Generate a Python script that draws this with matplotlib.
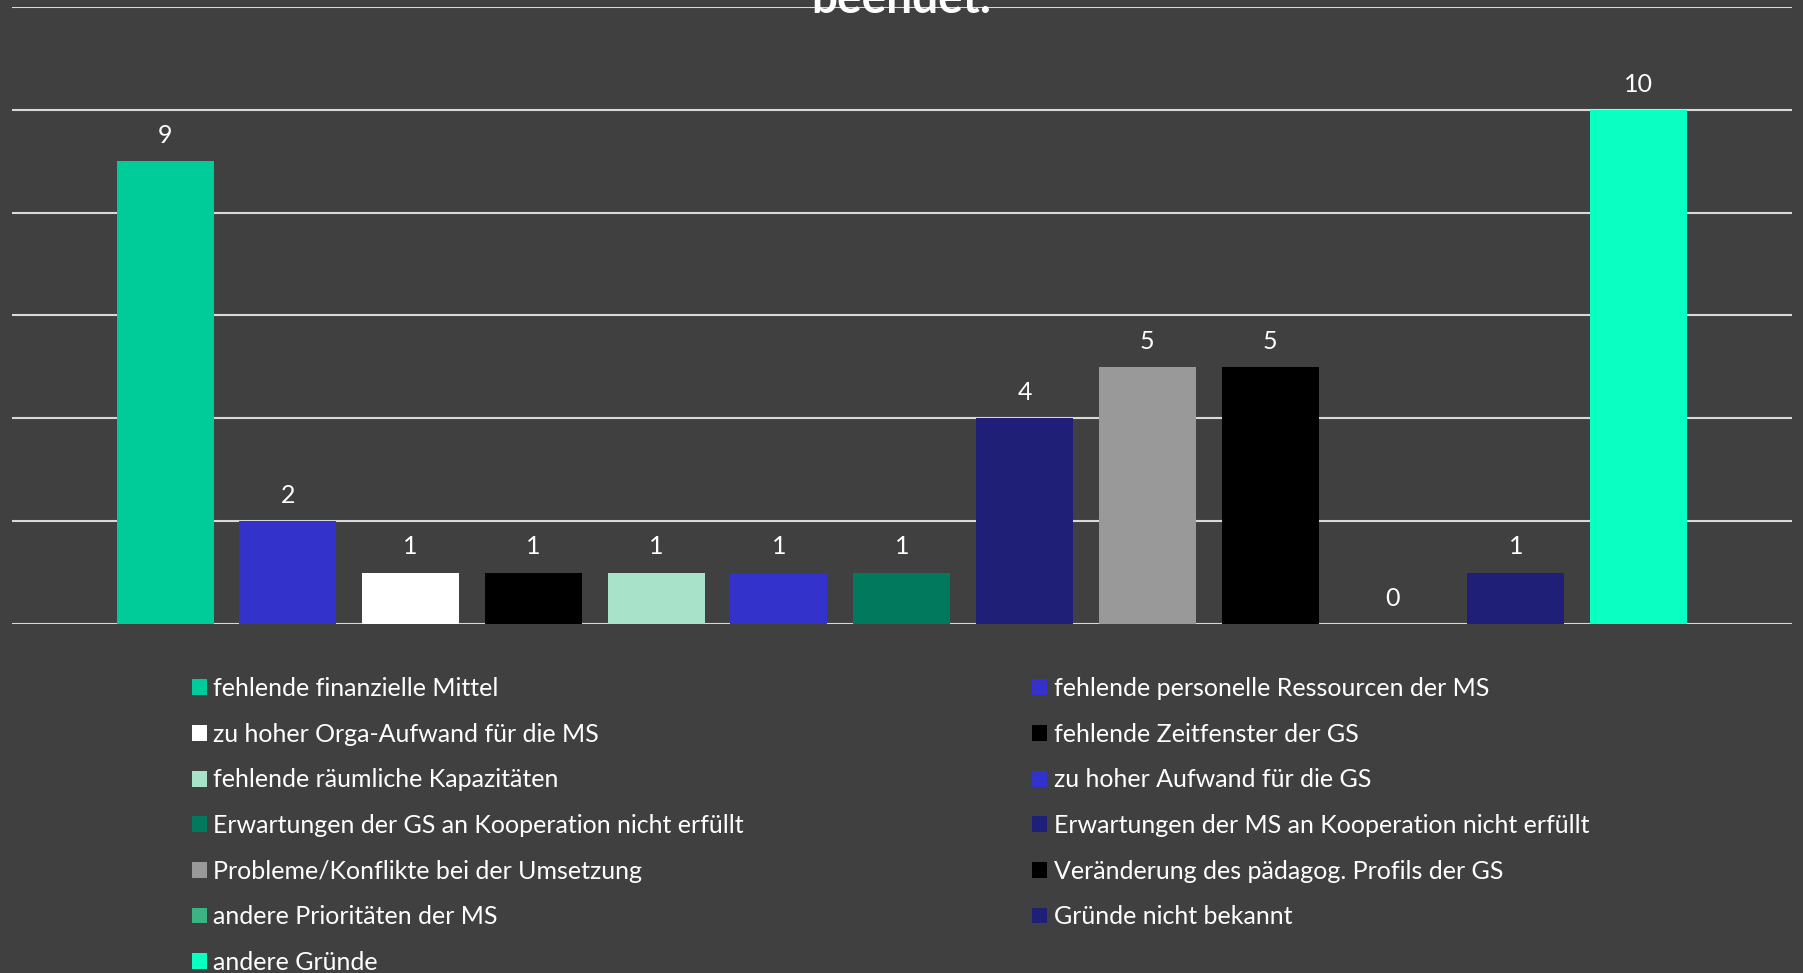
import matplotlib
matplotlib.use("Agg")
import matplotlib.pyplot as plt
from matplotlib.patches import Patch

plt.rcParams['font.family'] = ['Lato', 'DejaVu Sans']

reasons = [
    "fehlende finanzielle Mittel",
    "fehlende personelle Ressourcen der MS",
    "zu hoher Orga-Aufwand für die MS",
    "fehlende Zeitfenster der GS",
    "fehlende räumliche Kapazitäten",
    "zu hoher Aufwand für die GS",
    "Erwartungen der GS an Kooperation nicht erfüllt",
    "Erwartungen der MS an Kooperation nicht erfüllt",
    "Probleme/Konflikte bei der Umsetzung",
    "Veränderung des pädagog. Profils der GS",
    "andere Prioritäten der MS",
    "Gründe nicht bekannt",
    "andere Gründe",
]
counts = [9, 2, 1, 1, 1, 1, 1, 4, 5, 5, 0, 1, 10]
colors = ["#00CC99", "#3333CC", "#FFFFFF", "#000000", "#A8E2C9", "#3333CC",
          "#00795C", "#1F1F78", "#999999", "#000000", "#3CB383", "#1F1F78",
          "#0AFFC2"]

bg = "#404040"
fig = plt.figure(figsize=(18.03, 9.73), dpi=100, facecolor=bg)
ax = fig.add_axes([0.0064, 0.3587, 0.9875, 0.6341], facecolor=bg)

x = list(range(len(counts)))
ax.bar(x, counts, width=0.79, color=colors, zorder=3)
for xi, v in zip(x, counts):
    ax.text(xi, v + 0.5, str(v), ha='center', va='center', color='white', fontsize=18)

ax.set_xlim(-1.25, 13.25)
ax.set_ylim(0, 12)
ax.set_yticks([0, 2, 4, 6, 8, 10, 12])
ax.yaxis.grid(True, color='#D9D9D9', linewidth=1.5, zorder=0)
ax.set_axisbelow(True)
ax.set_xticks([])
ax.tick_params(left=False, labelleft=False)
for s in ax.spines.values():
    s.set_visible(False)

# only the last line of the title shows, the rest is cut off at the top
fig.text(0.5, 0.9866, "beendet.", ha='center', va='baseline', color='white',
         fontsize=33, fontweight='bold')

handles = [Patch(facecolor=c, edgecolor='none') for c in colors]
left = list(range(0, 13, 2))
right = list(range(1, 13, 2))
for idx, xpos in ((left, 0.1066), (right, 0.5726)):
    fig.legend([handles[i] for i in idx], [reasons[i] for i in idx],
               loc='upper left', bbox_to_anchor=(xpos, 0.3040), frameon=False,
               fontsize=18, labelcolor='white', handlelength=0.6, handleheight=0.6,
               handletextpad=0.25, labelspacing=0.905, borderpad=0, borderaxespad=0)

fig.savefig("out.png", dpi=100, facecolor=bg)
